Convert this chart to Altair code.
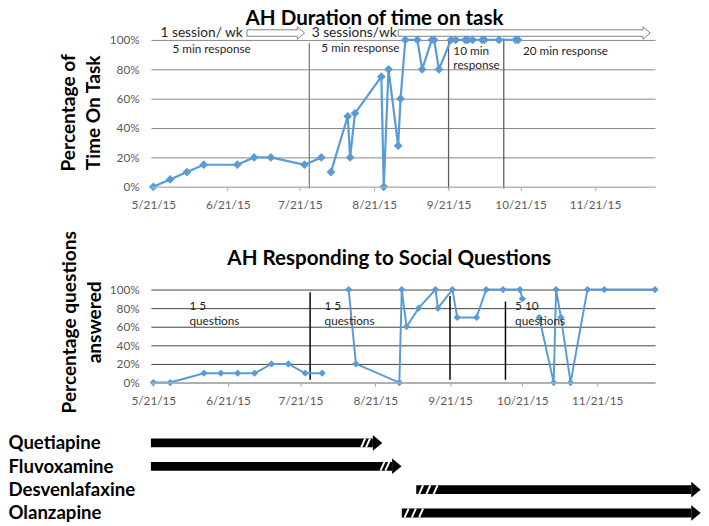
import altair as alt
import pandas as pd

# ---------------- values ----------------
# Panel 1: AH Duration of time on task (percent)
top_dates = ["2015-05-21", "2015-05-28", "2015-06-04", "2015-06-11", "2015-06-25", "2015-07-02",
             "2015-07-09", "2015-07-23", "2015-07-30",
             "2015-08-03", "2015-08-10", "2015-08-11", "2015-08-13", "2015-08-24", "2015-08-25",
             "2015-08-27", "2015-08-31", "2015-09-01", "2015-09-03", "2015-09-08", "2015-09-10",
             "2015-09-14", "2015-09-15", "2015-09-17", "2015-09-22", "2015-09-24", "2015-09-28",
             "2015-09-29", "2015-10-01", "2015-10-05", "2015-10-06", "2015-10-12", "2015-10-19",
             "2015-10-20"]
top_pct = [0, 5, 10, 15, 15, 20, 20, 15, 20,
           10, 48, 20, 50, 75, 0, 80, 28, 60,
           100, 100, 80, 100, 100, 80, 100, 100, 100,
           100, 100, 100, 100, 100, 100, 100]
top_run = [1] * 9 + [2] * 25

# Panel 2: AH Responding to Social Questions (percent)
bot_dates = ["2015-05-21", "2015-05-28", "2015-06-11", "2015-06-18", "2015-06-25", "2015-07-02",
             "2015-07-09", "2015-07-16", "2015-07-23", "2015-07-30",
             "2015-08-10", "2015-08-13", "2015-08-31", "2015-09-01", "2015-09-03", "2015-09-08",
             "2015-09-15", "2015-09-16", "2015-09-22", "2015-09-24", "2015-10-02", "2015-10-06",
             "2015-10-13", "2015-10-20", "2015-10-21",
             "2015-10-28", "2015-11-03", "2015-11-04", "2015-11-06", "2015-11-10", "2015-11-17",
             "2015-11-24", "2015-12-15"]
bot_pct = [0, 0, 10, 10, 10, 10, 20, 20, 10, 10,
           100, 20, 0, 100, 60, 80, 100, 80, 100, 70, 70, 100, 100, 100, 90,
           70, 0, 100, 70, 0, 100, 100, 100]
bot_run = [1] * 10 + [2] * 15 + [3] * 8

# phase-change lines
phase_dates = ["2015-07-25", "2015-09-21", "2015-10-14"]
top_phase_top = [0.98, 1.013, 1.013]
top_phase_colors = ["#808080", "#595959", "#595959"]
bot_phase_top = [0.97, 0.93, 0.87]

# annotations, panel 1
top_notes = ["1 session/ wk", "3 sessions/wk", "5 min response", "5 min response",
             "10 min", "response", "20 min response"]
top_note_dates = ["2015-05-24", "2015-07-26", "2015-05-29", "2015-07-30",
                  "2015-09-23", "2015-09-23", "2015-10-22"]
top_note_levels = [1.02, 1.02, 0.911, 0.915, 0.90, 0.80, 0.90]
top_note_sizes = [14, 14, 12, 12, 12, 12, 12]
arrow_start = ["2015-06-29", "2015-08-31"]
arrow_neck = ["2015-07-20", "2015-12-11"]
arrow_tip = ["2015-07-23", "2015-12-14"]

# annotations, panel 2
bot_notes = ["1 5", "questions", "1 5", "questions", "5 10", "questions"]
bot_note_dates = ["2015-06-05", "2015-06-05", "2015-07-31", "2015-07-31", "2015-10-18", "2015-10-18"]
bot_note_levels = [0.775, 0.62, 0.775, 0.62, 0.775, 0.62]

# medication timeline
drugs = ["Quetiapine", "Fluvoxamine", "Desvenlafaxine", "Olanzapine"]
drug_start = ["2015-05-20", "2015-05-20", "2015-09-07", "2015-09-01"]
drug_end = ["2015-08-20", "2015-08-28", "2015-12-30", "2015-12-30"]
slash_drug = ["Quetiapine", "Quetiapine", "Fluvoxamine", "Fluvoxamine",
              "Desvenlafaxine", "Desvenlafaxine", "Desvenlafaxine",
              "Olanzapine", "Olanzapine", "Olanzapine"]
slash_dates = ["2015-08-16", "2015-08-18", "2015-08-24", "2015-08-26",
               "2015-09-09", "2015-09-12", "2015-09-15",
               "2015-09-03", "2015-09-06", "2015-09-09"]

tick_months = [5, 6, 7, 8, 9, 10, 11]
pct_ticks = [0, 0.2, 0.4, 0.6, 0.8, 1.0]

# ---------------- styling ----------------
BLUE = "#5B9BD5"
FONT = "Lato"
W = 515


def D(y, m, d):
    return alt.DateTime(year=y, month=m, date=d)


tick_vals = [D(2015, m, 21) for m in tick_months]


def x_axis():
    return alt.Axis(title=None, values=tick_vals, format="%-m/%-d/%y", grid=False,
                    labelFontSize=12, labelColor="#595959", labelPadding=9,
                    labelFlush=False, labelOverlap=False, tickSize=4,
                    tickColor="#a6a6a6", domainColor="#bfbfbf", zindex=1)


def y_axis(title, grid_color, tx, ty):
    return alt.Axis(title=title, values=pct_ticks, format=".0%", grid=True,
                    gridColor=grid_color, domain=False, ticks=False, tickSize=0,
                    labelPadding=12, labelFontSize=12, labelColor="#595959",
                    titleFontSize=19.5, titleFontWeight="bold", titleColor="black",
                    titleLineHeight=26, titleBaseline="alphabetic", titleAngle=270,
                    titleAlign="center", titleX=tx, titleY=ty)


# ---------------- panel 1 ----------------
X1 = alt.X("date:T", scale=alt.Scale(domain=[D(2015, 5, 20), D(2015, 12, 16)]), axis=x_axis())
Y1 = alt.Y("pct:Q", scale=alt.Scale(domain=[0, 1]),
           axis=y_axis(["Percentage of", "Time On Task"], "#868686", -78, 74))

top_df = pd.DataFrame({"date": pd.to_datetime(top_dates),
                       "pct": [v / 100 for v in top_pct], "run": top_run})
top_phase = pd.DataFrame({"date": pd.to_datetime(phase_dates), "pct": top_phase_top,
                          "pct2": [-0.013] * 3, "col": top_phase_colors})
top_text = pd.DataFrame({"date": pd.to_datetime(top_note_dates), "pct": top_note_levels,
                         "note": top_notes, "fs": top_note_sizes})
arrow_rows = []
for i, (s, n, t) in enumerate(zip(arrow_start, arrow_neck, arrow_tip)):
    mid, sh, hh = 1.047, 0.022, 0.042
    arrow_rows += [
        {"arrow": i, "date": s, "pct": mid - sh, "pct2": mid + sh},
        {"arrow": i, "date": n, "pct": mid - sh, "pct2": mid + sh},
        {"arrow": i, "date": n, "pct": mid - hh, "pct2": mid + hh},
        {"arrow": i, "date": t, "pct": mid, "pct2": mid},
    ]
arrow_df = pd.DataFrame(arrow_rows)
arrow_df["date"] = pd.to_datetime(arrow_df["date"])

p1_rules = alt.Chart(top_phase).mark_rule(strokeWidth=1.3).encode(
    x=X1, y=Y1, y2=alt.Y2("pct2:Q"), color=alt.Color("col:N", scale=None))
p1_arrows = alt.Chart(arrow_df).mark_area(fill="white", stroke="#7f7f7f", strokeWidth=1,
                                          interpolate="linear").encode(
    x=X1, y=Y1, y2=alt.Y2("pct2:Q"), detail="arrow:N")
p1_line = alt.Chart(top_df).mark_line(color=BLUE, strokeWidth=2.25).encode(
    x=X1, y=Y1, detail="run:N")
p1_pts = alt.Chart(top_df).mark_point(shape="diamond", filled=True, size=80, color=BLUE,
                                      opacity=1).encode(x=X1, y=Y1)
p1_text = alt.Chart(top_text).mark_text(align="left", baseline="alphabetic",
                                        color="#262626").encode(
    x=X1, y=Y1, text="note:N", size=alt.Size("fs:Q", scale=None))

panel1 = alt.layer(p1_rules, p1_arrows, p1_line, p1_pts, p1_text).properties(
    width=W, height=150,
    title=alt.TitleParams("AH Duration of time on task", font=FONT, fontSize=21,
                          fontWeight="bold", color="black", anchor="middle",
                          frame="group", dx=-29, offset=-21, baseline="alphabetic"))

# ---------------- panel 2 ----------------
X2 = alt.X("date:T", scale=alt.Scale(domain=[D(2015, 5, 20), D(2015, 12, 15)]), axis=x_axis())
Y2 = alt.Y("pct:Q", scale=alt.Scale(domain=[0, 1]),
           axis=y_axis(["Percentage questions", "answered"], "#404040", -77, 33))

bot_df = pd.DataFrame({"date": pd.to_datetime(bot_dates),
                       "pct": [v / 100 for v in bot_pct], "run": bot_run})
bot_phase = pd.DataFrame({"date": pd.to_datetime(phase_dates), "pct": bot_phase_top,
                          "pct2": [0.03] * 3})
bot_text = pd.DataFrame({"date": pd.to_datetime(bot_note_dates), "pct": bot_note_levels,
                         "note": bot_notes})

p2_rules = alt.Chart(bot_phase).mark_rule(strokeWidth=1.5, color="black").encode(
    x=X2, y=Y2, y2=alt.Y2("pct2:Q"))
p2_line = alt.Chart(bot_df).mark_line(color=BLUE, strokeWidth=2).encode(
    x=X2, y=Y2, detail="run:N")
p2_pts = alt.Chart(bot_df).mark_point(shape="diamond", filled=True, size=55, color=BLUE,
                                      opacity=1).encode(x=X2, y=Y2)
p2_text = alt.Chart(bot_text).mark_text(align="left", baseline="alphabetic", fontSize=12,
                                        color="#262626").encode(x=X2, y=Y2, text="note:N")

panel2 = alt.layer(p2_rules, p2_line, p2_pts, p2_text).properties(
    width=W, height=95,
    title=alt.TitleParams("AH Responding to Social Questions", font=FONT, fontSize=21,
                          fontWeight="bold", color="black", anchor="middle",
                          frame="group", dx=-14, offset=-56, baseline="alphabetic"))

# ---------------- panel 3: medications ----------------
X3 = alt.X("date:T", scale=alt.Scale(domain=[D(2015, 5, 20), D(2016, 1, 1)]), axis=None)
Y3 = alt.Y("drug:N", sort=drugs, scale=alt.Scale(type="point", padding=0.28),
           axis=alt.Axis(title=None, domain=False, ticks=False, tickSize=0, grid=False,
                         labelAlign="left", labelBaseline="middle", labelPadding=146,
                         labelFontSize=19, labelFontWeight="bold", labelColor="black",
                         labelLimit=300))

med_df = pd.DataFrame({"drug": drugs, "date": pd.to_datetime(drug_start),
                       "end": pd.to_datetime(drug_end)})
head_df = pd.DataFrame({"drug": drugs, "date": pd.to_datetime(drug_end)})
slash_df = pd.DataFrame({"drug": slash_drug, "date": pd.to_datetime(slash_dates)})

p3_bars = alt.Chart(med_df).mark_rule(strokeWidth=9, color="black", strokeCap="butt").encode(
    x=X3, x2=alt.X2("end:T"), y=Y3)
p3_heads = alt.Chart(head_df).mark_point(shape="M0,-1L1.2,0L0,1Z", filled=True, size=256,
                                         color="black", opacity=1).encode(x=X3, y=Y3)
p3_slash = alt.Chart(slash_df).mark_point(shape="M-0.45,1L0.45,-1", filled=False, size=81,
                                          color="white", strokeWidth=2, opacity=1).encode(
    x=X3, y=Y3)

panel3 = alt.layer(p3_bars, p3_heads, p3_slash).properties(width=557, height=85)

chart = alt.vconcat(panel1, panel2, panel3, spacing=20).properties(
    padding={"top": -6, "left": 0, "right": 0, "bottom": 0}).configure(
    font=FONT).configure_view(strokeWidth=0)

chart.save("out.html", embed_options={"renderer": "svg", "actions": False})
